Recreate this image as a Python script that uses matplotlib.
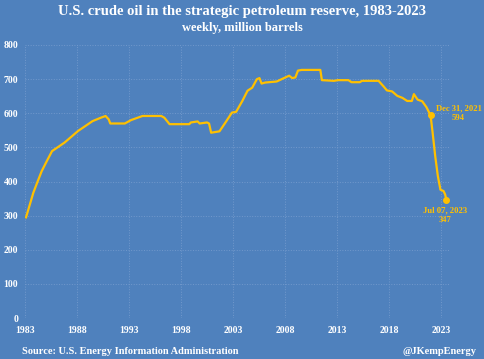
import matplotlib.pyplot as plt
import numpy as np

# weekly SPR stocks, million barrels (decimal years)
years = [1983.1, 1983.8, 1984.1, 1984.6, 1985.1, 1985.6, 1986.8, 1988.1, 1989.5, 1990.3,
         1990.75, 1991.05, 1991.2, 1992.6, 1993.2, 1994.3, 1996.1, 1996.4, 1996.9, 1998.8,
         1998.95, 1999.6, 1999.8, 2000.5, 2000.7, 2000.9, 2001.7, 2002.3, 2002.9, 2003.3,
         2003.9, 2004.4, 2004.85, 2005.3, 2005.55, 2005.75, 2006.1, 2007.2, 2007.9, 2008.4,
         2008.7, 2009.0, 2009.25, 2009.6, 2011.4, 2011.55, 2012.7, 2013.1, 2014.1, 2014.4,
         2015.2, 2015.4, 2017.0, 2017.5, 2017.8, 2018.3, 2018.8, 2019.3, 2019.75, 2020.2,
         2020.4, 2020.75, 2021.2, 2021.6, 2022.0, 2022.2, 2022.45, 2022.7, 2022.95, 2023.25,
         2023.4, 2023.52]
stocks = [295, 367, 391, 430, 460, 489, 514, 548, 577, 587,
          592, 582, 570, 570, 580, 592, 592, 587, 568, 568,
          573, 576, 570, 573, 570, 543, 547, 574, 602, 604,
          636, 666, 675, 700, 703, 687, 690, 693, 703, 710,
          703, 705, 725, 727, 727, 697, 695, 697, 697, 691,
          691, 695, 695, 678, 667, 664, 651, 645, 636, 636,
          656, 640, 635, 618, 594, 543, 474, 416, 376, 372,
          362, 347]

marks_x = [2022.0, 2023.52]
marks_y = [594, 347]
marks_lbl = ["Dec 31, 2021\n594", "Jul 07, 2023\n347"]

xticks = [1983, 1988, 1993, 1998, 2003, 2008, 2013, 2018, 2023]
yticks = np.arange(0, 801, 100)

bg = '#4f81bd'
gold = '#ffc000'
plt.rcParams['font.family'] = ['Liberation Serif', 'DejaVu Serif']

fig = plt.figure(figsize=(4.85, 3.59), dpi=100, facecolor=bg)
ax = fig.add_axes([25/485, 1-318/359, (450-25)/485, (318-45)/359])
ax.set_facecolor(bg)

ax.plot(years, stocks, color=gold, lw=1.6, zorder=3)
ax.plot(marks_x, marks_y, 'o', color=gold, ms=4, zorder=4)
ax.text(marks_x[0] + 2.7, marks_y[0] + 6, marks_lbl[0], color=gold, fontsize=6.2,
        fontweight='bold', ha='center', va='center', linespacing=1.2)
ax.text(marks_x[1] - 0.1, marks_y[1] - 45, marks_lbl[1], color=gold, fontsize=6.2,
        fontweight='bold', ha='center', va='center', linespacing=1.2)

ax.set_xlim(1983, 2023.87)
ax.set_ylim(0, 800)
ax.set_xticks(xticks)
ax.set_yticks(yticks)
ax.grid(True, color='#7299cc', ls=':', lw=0.7)
for s in ax.spines.values():
    s.set_visible(False)
ax.tick_params(length=0, colors='white', labelsize=7)
ax.tick_params(axis='y', pad=5)
ax.tick_params(axis='x', pad=6)
for lab in ax.get_xticklabels() + ax.get_yticklabels():
    lab.set_fontweight('bold')

fig.text(0.5, 1-12/359, "U.S. crude oil in the strategic petroleum reserve, 1983-2023",
         color='white', fontsize=10.5, fontweight='bold', ha='center', va='center')
fig.text(0.5, 1-28/359, "weekly, million barrels", color='white', fontsize=9,
         fontweight='bold', ha='center', va='center')
fig.text(22/485, 1-352/359, "Source: U.S. Energy Information Administration",
         color='white', fontsize=7.5, fontweight='bold', ha='left', va='center')
fig.text(477/485, 1-352/359, "@JKempEnergy", color='white', fontsize=7.5,
         fontweight='bold', ha='right', va='center')

fig.savefig('out.png', dpi=100, facecolor=bg)
